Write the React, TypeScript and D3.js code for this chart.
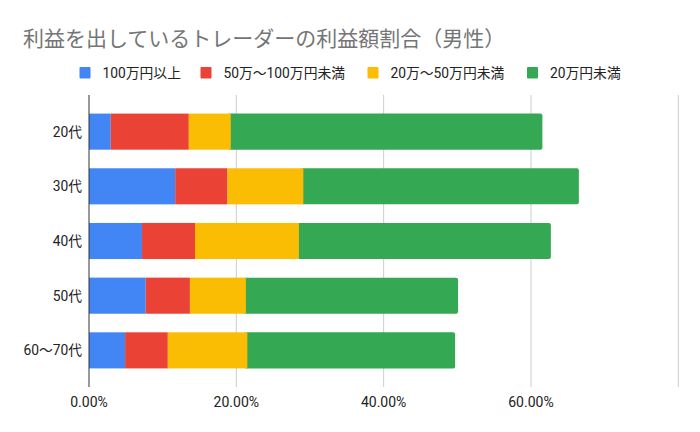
import * as d3 from "d3";

const ages = ["20代", "30代", "40代", "50代", "60〜70代"];
const seriesNames = ["100万円以上", "50万〜100万円未満", "20万〜50万円未満", "20万円未満"];
const colors = ["#4285F4", "#EA4335", "#FBBC04", "#34A853"];

// values in %
const over100 = [2.95, 11.7, 7.2, 7.7, 4.9];
const from50to100 = [10.6, 7.1, 7.2, 6.0, 5.8];
const from20to50 = [5.7, 10.3, 14.1, 7.6, 10.8];
const under20 = [42.3, 37.4, 34.2, 28.8, 28.2];

const xTicks = [0, 20, 40, 60, 80];
const xTickLabels = ["0.00%", "20.00%", "40.00%", "60.00%", ""];

const W = 700;
const H = 432;
const font = "Roboto, 'Noto Sans CJK JP', sans-serif";

type Row = { age: string; [k: string]: number | string };

const rows: Row[] = ages.map((age, i) => ({
  age,
  [seriesNames[0]]: over100[i],
  [seriesNames[1]]: from50to100[i],
  [seriesNames[2]]: from20to50[i],
  [seriesNames[3]]: under20[i],
}));

const legendX = [79.5, 200.5, 367.5, 527];

export default function App() {
  const x = d3.scaleLinear().domain([0, 80]).range([89, 678.3]);
  const y = d3.scaleBand<string>().domain(ages).range([95, 387]).paddingInner(0.34).paddingOuter(0.34);
  const stack = d3.stack<Row>().keys(seriesNames).value((d, k) => d[k] as number);
  const layers = stack(rows);
  const last = layers.length - 1;

  return (
    <svg width={W} height={H} style={{ position: "absolute", left: 0, top: 0, background: "#fff" }}>
      <text x={23} y={46} fontSize={21} fill="#757575" fontFamily={font}>
        利益を出しているトレーダーの利益額割合（男性）
      </text>
      {seriesNames.map((s, i) => (
        <g key={s}>
          <rect x={legendX[i]} y={67} width={11} height={11.5} rx={1} fill={colors[i]} />
          <text x={legendX[i] + 23} y={77.5} fontSize={13.8} fill="#222" fontFamily={font}>
            {s}
          </text>
        </g>
      ))}
      {xTicks.slice(1).map((t) => (
        <line key={t} x1={x(t)} x2={x(t)} y1={95} y2={387} stroke="#cccccc" strokeWidth={1} />
      ))}
      {layers
        .map((layer, li) => ({ layer, li }))
        .sort((a, b) => (a.li === last ? -1 : b.li === last ? 1 : a.li - b.li))
        .map(({ layer, li }) =>
          layer.map((d) => {
            const x0 = x(d[0]);
            const x1 = x(d[1]);
            const isLast = li === last;
            return (
              <rect
                key={`${li}-${d.data.age}`}
                x={isLast ? x0 - 3 : x0}
                y={y(d.data.age)}
                width={isLast ? x1 - x0 + 3 : x1 - x0}
                height={y.bandwidth()}
                rx={isLast ? 2 : 0}
                fill={colors[li]}
              />
            );
          })
        )}
      <line x1={x(0)} x2={x(0)} y1={95} y2={387} stroke="#333" strokeWidth={1} />
      {ages.map((a) => (
        <text
          key={a}
          x={82}
          y={(y(a) ?? 0) + y.bandwidth() / 2 + 5}
          textAnchor="end"
          fontSize={13.8}
          fill="#222"
          fontFamily={font}
        >
          {a}
        </text>
      ))}
      {xTicks.map((t, i) => (
        <text key={t} x={x(t)} y={407} textAnchor="middle" fontSize={14} fill="#222" fontFamily={font}>
          {xTickLabels[i]}
        </text>
      ))}
    </svg>
  );
}
